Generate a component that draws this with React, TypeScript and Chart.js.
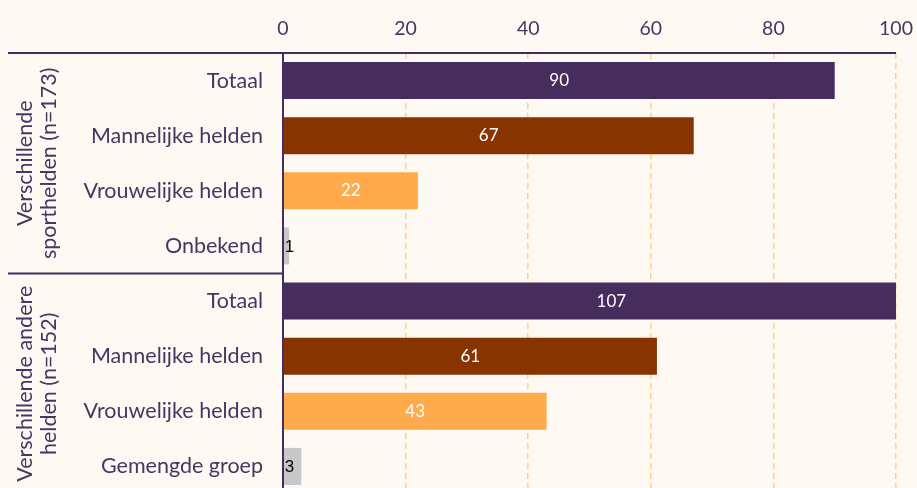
import React, { useEffect, useRef } from "react";
import { Chart, registerables } from "chart.js";

Chart.register(...registerables);

const categories = [
  "Totaal",
  "Mannelijke helden",
  "Vrouwelijke helden",
  "Onbekend",
  "Totaal",
  "Mannelijke helden",
  "Vrouwelijke helden",
  "Gemengde groep",
];
const values = [90, 67, 22, 1, 107, 61, 43, 3];
const groupLabels = [
  ["Verschillende", "sporthelden (n=173)"],
  ["Verschillende andere", "helden (n=152)"],
];
const groupStarts = [0, 4];
const groupEnds = [3, 7];
const xTicks = [0, 20, 40, 60, 80, 100];

const PURPLE = "#472c5e";
const BROWN = "#873400";
const ORANGE = "#ffab4b";
const GREY = "#c8c8c8";
const TEXT = "#4a3462";
const BG = "#fff9f3";
const GRID = "#ffcf95";

const barColors = [PURPLE, BROWN, ORANGE, GREY, PURPLE, BROWN, ORANGE, GREY];

const overlayPlugin = {
  id: "overlay",
  afterDraw(chart: any) {
    const ctx = chart.ctx;
    const area = chart.chartArea;
    const yScale = chart.scales.y;
    const xScale = chart.scales.x;
    ctx.save();
    ctx.fillStyle = TEXT;
    ctx.font = "19.5px Lato";
    ctx.textAlign = "center";
    ctx.textBaseline = "alphabetic";
    xTicks.forEach((v) => {
      ctx.fillText(String(v), xScale.getPixelForValue(v), area.top - 18);
    });
    ctx.strokeStyle = PURPLE;
    ctx.lineWidth = 2;
    ctx.beginPath();
    ctx.moveTo(8, area.top);
    ctx.lineTo(area.right, area.top);
    ctx.stroke();
    ctx.beginPath();
    ctx.moveTo(area.left, area.top);
    ctx.lineTo(area.left, chart.height);
    ctx.stroke();
    for (let g = 0; g < groupLabels.length; g++) {
      const step = yScale.getPixelForValue(1) - yScale.getPixelForValue(0);
      const top = yScale.getPixelForValue(groupStarts[g]) - step / 2;
      const bottom = yScale.getPixelForValue(groupEnds[g]) + step / 2;
      if (g > 0) {
        ctx.beginPath();
        ctx.moveTo(8, top);
        ctx.lineTo(area.left, top);
        ctx.stroke();
      }
      const cy = (top + bottom) / 2;
      ctx.save();
      ctx.translate(0, cy);
      ctx.rotate(-Math.PI / 2);
      ctx.fillStyle = TEXT;
      ctx.font = "21.5px Lato";
      ctx.textAlign = "center";
      ctx.textBaseline = "alphabetic";
      const lines = groupLabels[g];
      lines.forEach((l, i) => {
        ctx.fillText(l, 0, 32 + i * 24);
      });
      ctx.restore();
    }
    const meta = chart.getDatasetMeta(0);
    meta.data.forEach((bar: any, i: number) => {
      const v = values[i];
      ctx.textBaseline = "middle";
      if (v >= 10) {
        ctx.fillStyle = "#ffffff";
        ctx.font = "17px Lato";
        ctx.textAlign = "center";
        ctx.fillText(String(v), (bar.x + bar.base) / 2, bar.y);
      } else {
        ctx.fillStyle = "#000000";
        ctx.font = "17px 'Liberation Sans'";
        ctx.textAlign = "left";
        ctx.fillText(String(v), bar.base + 1, bar.y + 1);
      }
    });
    ctx.restore();
  },
};

export default function App() {
  const ref = useRef<HTMLCanvasElement>(null);
  useEffect(() => {
    document.documentElement.style.overflow = "hidden";
    document.body.style.margin = "0";
    document.body.style.background = BG;
    const chart = new Chart(ref.current as HTMLCanvasElement, {
      type: "bar",
      data: {
        labels: categories,
        datasets: [
          {
            data: values,
            backgroundColor: barColors,
            barPercentage: 37 / 55,
            categoryPercentage: 1,
          },
        ],
      },
      options: {
        indexAxis: "y",
        animation: false,
        responsive: false,
        layout: { padding: { left: 0, right: 21, top: 0, bottom: 0 } },
        plugins: { legend: { display: false }, tooltip: { enabled: false } },
        scales: {
          x: {
            position: "top",
            min: 0,
            max: 100,
            afterFit: (s: any) => {
              s.height = 53;
              s.paddingLeft = 0;
              s.paddingRight = 0;
            },
            afterBuildTicks: (s: any) => {
              s.ticks = xTicks.map((v) => ({ value: v }));
            },
            ticks: { display: false },
            grid: {
              drawTicks: false,
              color: (c: any) => (c.tick && c.tick.value === 0 ? "rgba(0,0,0,0)" : GRID),
              lineWidth: 1.5,
            },
            border: { display: false, dash: [6, 4] },
          },
          y: {
            afterFit: (s: any) => {
              s.width = 283;
              s.paddingTop = 0;
              s.paddingBottom = 0;
            },
            ticks: {
              font: { family: "Lato", size: 21.5 },
              color: TEXT,
              padding: 20,
            },
            grid: { display: false, drawTicks: false },
            border: { display: false },
          },
        },
      },
      plugins: [overlayPlugin],
    } as any);
    return () => chart.destroy();
  }, []);
  return (
    <div style={{ width: 917, height: 488, overflow: "hidden" }}>
      <canvas ref={ref} width={917} height={494} style={{ display: "block" }} />
    </div>
  );
}
